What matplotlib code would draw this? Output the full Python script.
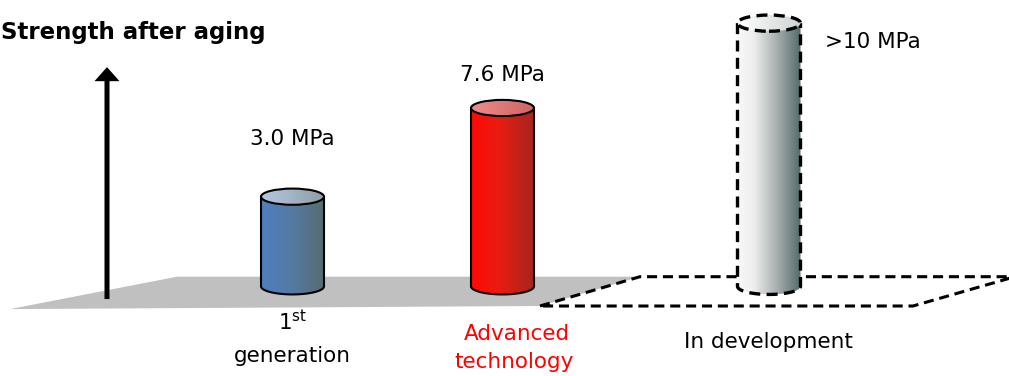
import numpy as np
import matplotlib.pyplot as plt
from matplotlib.patches import Ellipse, Polygon
from matplotlib.colors import LinearSegmentedColormap

# strength after aging (MPa); the last one is a target, drawn a bit above 10
categories = ["1st generation", "Advanced technology", "In development"]
strength = [3.0, 7.6, 12.0]
value_labels = ["3.0 MPa", "7.6 MPa", ">10 MPa"]

# cylinder layout
centers = [292.5, 502.5, 769.0]
HALF_W = 31.5
RY = 0.42
FLOOR = -1.65

body_colors = [[(0, "#4e7fc2"), (0.5, "#557aa2"), (1, "#586c70")],
               [(0, "#ff0a05"), (0.45, "#e81c12"), (1, "#a5261f")],
               [(0, "#f8f8f8"), (0.25, "#eeeeee"), (0.6, "#aab2b2"), (1, "#566a6a")]]
top_colors = [["#b4c8e0", "#8f9ea8"],
              ["#f08a8a", "#cf6464"],
              ["#ffffff", "#cfd3d3"]]

plt.rcParams['font.family'] = ['DejaVu Sans']

fig = plt.figure(figsize=(10.09, 3.76), dpi=100)
ax = fig.add_axes([0, 0, 1, 1])
ax.axis('off')

grad = np.linspace(0, 1, 256).reshape(1, -1)


def gradient_fill(patch, cols, extent, z):
    cmap = LinearSegmentedColormap.from_list("g", cols)
    im = ax.imshow(grad, cmap=cmap, extent=extent, aspect='auto',
                   interpolation='bicubic', zorder=z)
    im.set_clip_path(patch)


def cylinder(xc, top, bcols, tcols, ls='-', lw=1.5, z=5):
    t = np.linspace(np.pi, 2 * np.pi, 80)
    bottom = np.column_stack([xc + HALF_W * np.cos(t), FLOOR + RY * np.sin(t)])
    verts = np.vstack([[xc - HALF_W, top], bottom, [xc + HALF_W, top]])

    clip = Polygon(verts, closed=True, transform=ax.transData)
    gradient_fill(clip, bcols, (xc - HALF_W, xc + HALF_W, FLOOR - RY, top), z)
    ax.add_patch(Polygon(verts, closed=False, fill=False, ec='black', lw=lw,
                         ls=ls, zorder=z + 1, capstyle='butt'))

    cap_clip = Ellipse((xc, top), 2 * HALF_W, 2 * RY, transform=ax.transData)
    gradient_fill(cap_clip, tcols, (xc - HALF_W, xc + HALF_W, top - RY, top + RY), z + 2)
    ax.add_patch(Ellipse((xc, top), 2 * HALF_W, 2 * RY, fill=False, ec='black',
                         lw=lw, ls=ls, zorder=z + 3))


# floor: solid grey part and dashed outline for the part still in development
ax.add_patch(Polygon([(10, -2.83), (177, -1.15), (640, -1.15), (540, -2.67)],
                     closed=True, fc='#c0c0c0', ec='none', zorder=1))
ax.add_patch(Polygon([(540, -2.67), (640, -1.15), (1015, -1.15), (913, -2.67)],
                     closed=True, fill=False, ec='black', lw=2.2,
                     ls=(0, (3.3, 1.9)), zorder=2))

# vertical axis arrow (x is in pixel units, y in MPa)
ax.arrow(107, -2.31, 0, 12.03, width=5, head_width=25, head_length=0.73,
         length_includes_head=True, fc='black', ec='none', zorder=3)

for i, (xc, val) in enumerate(zip(centers, strength)):
    if i == 2:
        cylinder(xc, val, body_colors[i], top_colors[i], ls=(0, (3.3, 1.9)), lw=2.4, z=10)
    else:
        cylinder(xc, val, body_colors[i], top_colors[i], z=5 + 5 * i)

ax.text(1, 11.18, "Strength after aging", fontsize=16.5, fontweight='bold',
        ha='left', va='baseline')

fs = 15.5
ax.text(centers[0], 5.68, value_labels[0], fontsize=fs, ha='center', va='baseline')
ax.text(centers[1], 9.00, value_labels[1], fontsize=fs, ha='center', va='baseline')
ax.text(825, 10.71, value_labels[2], fontsize=fs, ha='left', va='baseline')

ax.text(centers[0], -3.92, "1$^{\\mathregular{st}}$", fontsize=fs, ha='center', va='baseline')
ax.text(centers[0], -5.58, "generation", fontsize=fs, ha='center', va='baseline')
ax.text(517, -4.43, "Advanced", fontsize=fs, color='#ff0000', ha='center', va='baseline')
ax.text(514, -5.89, "technology", fontsize=fs, color='#ff0000', ha='center', va='baseline')
ax.text(768, -4.85, "In development", fontsize=fs, ha='center', va='baseline')

ax.set_xlim(0, 1009)
ax.set_ylim(-6.3, 13.2)

fig.savefig("out.png", dpi=100)
